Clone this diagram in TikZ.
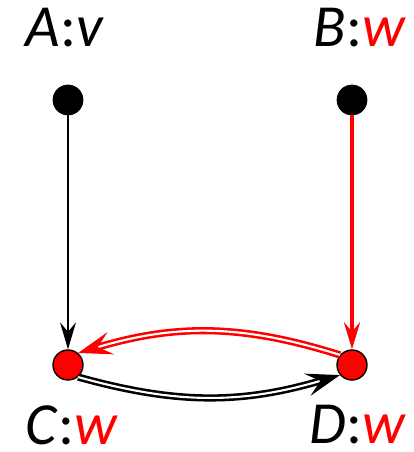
\documentclass[tikz,border=0pt]{standalone}
\usepackage{fontspec}
\setmainfont{Carlito}
\usetikzlibrary{arrows.meta,positioning}
\tikzset{
  topvtx/.style={circle,draw=black,fill=black,inner sep=0pt,minimum size=0.6cm},
  botvtx/.style={circle,draw=black,fill=red,line width=0.8pt,inner sep=0pt,minimum size=0.6cm},
  lbl/.style={inner sep=0pt,font=\fontsize{34}{40}\selectfont},
  arr/.style={-{Stealth[length=0.54cm,width=0.32cm,inset=0.19cm]},line width=0.95pt},
  redarr/.style={arr,red,line width=2.6pt},
  dblarr/.style={-{Stealth[length=0.68cm,width=0.46cm,inset=0.27cm]},double=white,line width=1.45pt,double distance=1.2pt},
  dblred/.style={dblarr,draw=red}
}
\newcommand{\vi}[1]{\textit{#1}}
\newcommand{\redw}{\textcolor{red}{\textit{w}}}

\begin{document}
\begin{tikzpicture}[x=0.02cm,y=-0.02cm]
  \useasboundingbox (0,0) rectangle (413,452);
  \node[topvtx] (A) at (68,100) {};
  \node[topvtx] (B) at (352,100) {};
  \node[botvtx] (C) at (68,365) {};
  \node[botvtx] (D) at (352,365) {};

  % labels
  \node[lbl, above=0.74cm of A, xshift=-0.06cm] (lA) {\vi{A}:\vi{v}};
  \node[lbl, above=0.74cm of B, xshift=0.16cm] (lB) {\vi{B}:\redw};
  \node[lbl, below=0.49cm of C, xshift=0.08cm] (lC) {\vi{C}:\redw};
  \node[lbl, below=0.49cm of D, xshift=0.12cm] (lD) {\vi{D}:\redw};

  \draw[arr] (A) -- (C);
  \draw[redarr] (B) -- (D);
  \draw[dblred] (D.140) to[bend right=17] (C.50);
  \draw[dblarr] (C.-50) to[bend right=16] (D.-140);
\end{tikzpicture}
\end{document}
